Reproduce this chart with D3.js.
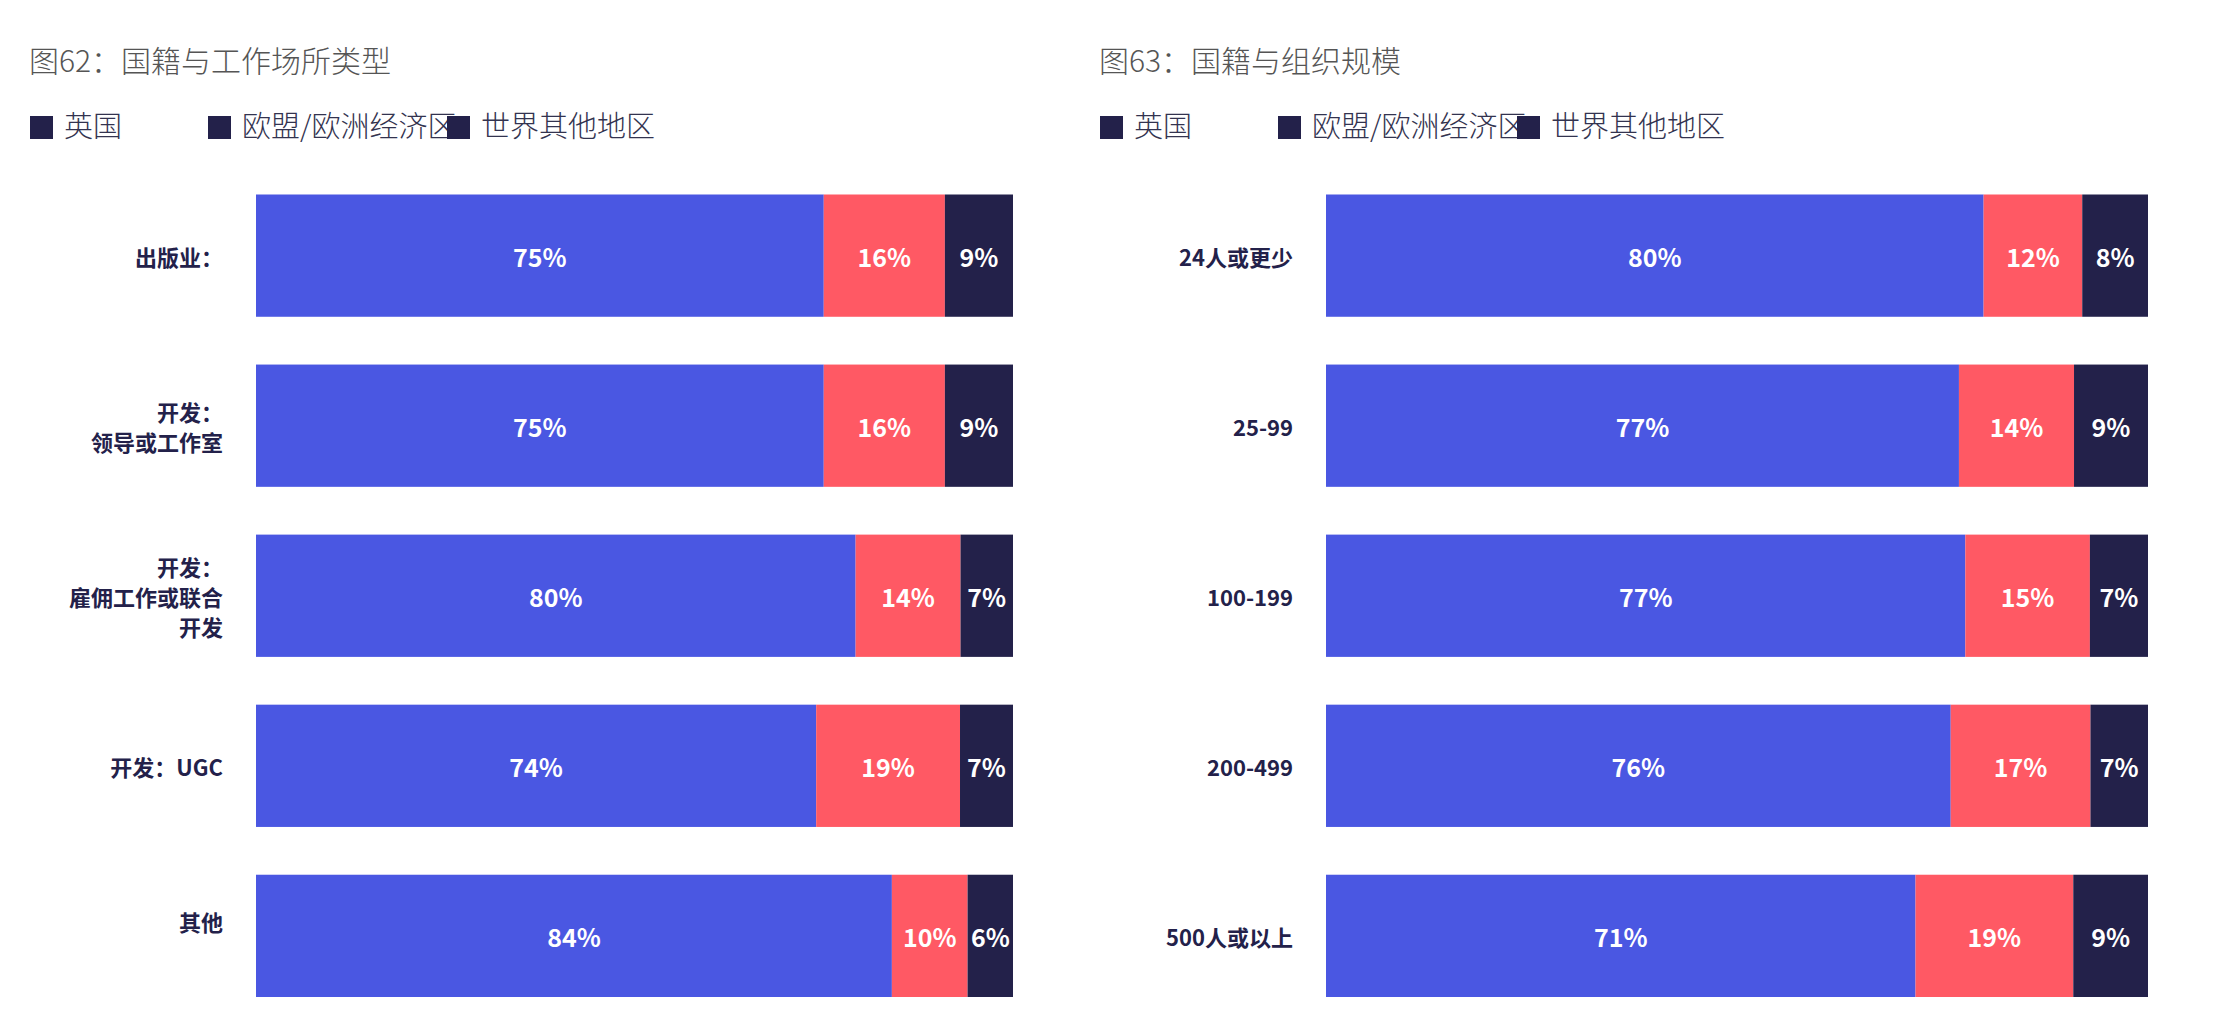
<!DOCTYPE html>
<html>
<head>
<meta charset="utf-8">
<script src="https://cdn.jsdelivr.net/npm/d3@7"></script>
<style>
  body { margin: 0; background: #fff; }
  text { font-family: "Noto Sans CJK SC", "Noto Sans", sans-serif; }
</style>
</head>
<body>
<div id="chart"></div>
<script>
// series (legend order)
const seriesNames = ["英国", "欧盟/欧洲经济区", "世界其他地区"];
const seriesColors = ["#4a57e2", "#ff5964", "#23214a"];

// figure 62: workplace type
const workplaceLabels = [["出版业："], ["开发：", "领导或工作室"], ["开发：", "雇佣工作或联合", "开发"], ["开发：UGC"], ["其他", ""]];
const workplaceUK = [75, 75, 80, 74, 84];
const workplaceEU = [16, 16, 14, 19, 10];
const workplaceRest = [9, 9, 7, 7, 6];

// figure 63: organisation size
const sizeLabels = [["24人或更少"], ["25-99"], ["100-199"], ["200-499"], ["500人或以上"]];
const sizeUK = [80, 77, 77, 76, 71];
const sizeEU = [12, 14, 15, 17, 19];
const sizeRest = [8, 9, 7, 7, 9];

const width = 2230, height = 1025;

const svg = d3.select("#chart")
  .append("svg")
    .attr("width", width)
    .attr("height", height);

svg.append("rect").attr("width", width).attr("height", height).attr("fill", "#fff");

function drawChart(opts) {
  const g = svg.append("g").attr("transform", `translate(${opts.left},0)`);

  // title
  g.append("text")
    .attr("x", 29)
    .attr("y", 72)
    .attr("font-size", 30)
    .attr("font-weight", 300)
    .attr("fill", "#555")
    .text(opts.title);

  // legend (all swatches share one colour, as in the original)
  const legendX = [30, 208, 447];
  const legend = g.selectAll(".legend")
    .data(seriesNames)
    .enter()
    .append("g")
      .attr("transform", (d, i) => `translate(${legendX[i]},116)`);
  legend.append("rect")
    .attr("width", 23)
    .attr("height", 23)
    .attr("fill", "#23214a");
  legend.append("text")
    .attr("x", 34)
    .attr("y", 21)
    .attr("font-size", 29)
    .attr("font-weight", 300)
    .attr("fill", "#33334f")
    .text(d => d);

  // stacked data, normalised per row
  const rows = opts.labels.map((l, i) => ({
    key: i,
    uk: opts.uk[i], eu: opts.eu[i], rest: opts.rest[i]
  }));
  const keys = ["uk", "eu", "rest"];
  const raw = {uk: opts.uk, eu: opts.eu, rest: opts.rest};
  const stacked = d3.stack().keys(keys).offset(d3.stackOffsetExpand)(rows);

  const x = d3.scaleLinear()
    .domain([0, 1])
    .range([256, 256 + opts.barWidth]);

  const y = d3.scaleBand()
    .domain(rows.map(d => d.key))
    .range([194.5, 997])
    .paddingInner(0.281)
    .paddingOuter(0);

  const layer = g.selectAll(".layer")
    .data(stacked)
    .enter()
    .append("g")
      .attr("fill", (d, i) => seriesColors[i]);

  layer.selectAll("rect")
    .data(d => d)
    .enter()
    .append("rect")
      .attr("x", d => x(d[0]))
      .attr("width", d => x(d[1]) - x(d[0]))
      .attr("y", d => y(d.data.key))
      .attr("height", y.bandwidth());

  // value labels
  stacked.forEach((s, si) => {
    g.selectAll(null)
      .data(s)
      .enter()
      .append("text")
        .attr("x", d => (x(d[0]) + x(d[1])) / 2)
        .attr("y", d => y(d.data.key) + y.bandwidth() / 2)
        .attr("text-anchor", "middle")
        .attr("dominant-baseline", "central")
        .attr("font-size", 25)
        .attr("font-weight", 700)
        .attr("fill", "#fff")
        .text(d => raw[s.key][d.data.key] + "%");
  });

  // category labels
  const lineH = 30;
  const cat = g.selectAll(".cat")
    .data(opts.labels)
    .enter()
    .append("text")
      .attr("text-anchor", "end")
      .attr("font-size", 22)
      .attr("font-weight", 700)
      .attr("fill", "#23214a")
      .attr("transform", (d, i) => `translate(223,${y(i) + y.bandwidth() / 2})`);
  cat.selectAll("tspan")
    .data(d => d.map((t, j) => ({t, j, n: d.length})))
    .enter()
    .append("tspan")
      .attr("x", 0)
      .attr("y", d => (d.j - (d.n - 1) / 2) * lineH)
      .attr("dominant-baseline", "central")
      .text(d => d.t);
}

drawChart({
  left: 0,
  title: "图62：国籍与工作场所类型",
  labels: workplaceLabels,
  uk: workplaceUK, eu: workplaceEU, rest: workplaceRest,
  barWidth: 757
});

drawChart({
  left: 1070,
  title: "图63：国籍与组织规模",
  labels: sizeLabels,
  uk: sizeUK, eu: sizeEU, rest: sizeRest,
  barWidth: 822
});
</script>
</body>
</html>
